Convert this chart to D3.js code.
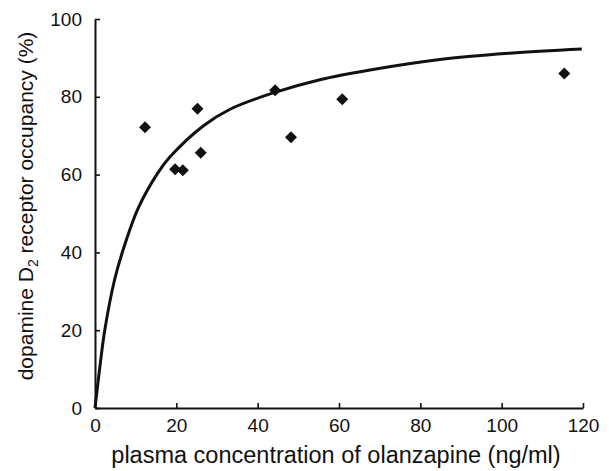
<!DOCTYPE html>
<html>
<head>
<meta charset="utf-8">
<script src="https://cdn.jsdelivr.net/npm/d3@7"></script>
<style>
  body { margin: 0; background: #fff; }
  text { font-family: "Liberation Sans", Arial, sans-serif; fill: #111; }
</style>
</head>
<body>
<div class="chart"></div>
<script>
// measured patients: plasma level (ng/ml) vs D2 occupancy (%)
var plasmaConc = [12.3, 19.7, 21.6, 25.2, 26.0, 44.3, 48.2, 60.8, 115.4];
var occupancy  = [72.2, 61.4, 61.1, 76.9, 65.6, 81.7, 69.6, 79.4, 86.0];

// fitted curve
var curveConc = [0, 1.4, 2.4, 4.8, 6.9, 10.6, 15.5, 18.4, 26.6, 33.2, 43.8, 55.3, 67.6, 84.8, 102, 119.7];
var curveOcc  = [0, 12.3, 20, 32.9, 40.6, 51.3, 60.5, 64.5, 72.5, 76.8, 81.0, 84.4, 86.9, 89.6, 91.2, 92.3];

var xTicks = [0, 20, 40, 60, 80, 100, 120];
var yTicks = [0, 20, 40, 60, 80, 100];

var svgWidth = 609;
var svgHeight = 471;

var margin = { top: 19, right: 26, bottom: 63, left: 95 };
var width = 583 - margin.left;
var height = 408 - margin.top;

var svg = d3.select(".chart")
  .append("svg")
  .attr("width", svgWidth)
  .attr("height", svgHeight);

var chartGroup = svg.append("g")
  .attr("transform", `translate(${margin.left}, ${margin.top})`);

var xScale = d3.scaleLinear().domain([0, 120]).range([0, width]);
var yScale = d3.scaleLinear().domain([0, 100]).range([height, 0]);

// axes with inward ticks
var bottomAxis = d3.axisBottom(xScale).tickValues(xTicks).tickSizeInner(-5).tickSizeOuter(0).tickPadding(11);
var leftAxis = d3.axisLeft(yScale).tickValues(yTicks).tickSizeInner(-5).tickSizeOuter(0).tickPadding(13);

var xAxis = chartGroup.append("g")
  .attr("transform", `translate(0, ${height})`)
  .call(bottomAxis);

var yAxis = chartGroup.append("g")
  .call(leftAxis);

[xAxis, yAxis].forEach(function(ax) {
  ax.select(".domain").attr("stroke", "#111").attr("stroke-width", 2);
  ax.selectAll(".tick line").attr("stroke", "#111").attr("stroke-width", 1.6);
  ax.selectAll(".tick text")
    .attr("font-size", 19)
    .attr("font-family", "Liberation Sans, Arial, sans-serif")
    .attr("fill", "#111");
});

// fitted curve
var curveData = curveConc.map(function(c, i) { return { x: c, y: curveOcc[i] }; });
var line = d3.line()
  .x(d => xScale(d.x))
  .y(d => yScale(d.y))
  .curve(d3.curveCatmullRom);

chartGroup.append("path")
  .datum(curveData)
  .attr("d", line)
  .attr("fill", "none")
  .attr("stroke", "#111")
  .attr("stroke-width", 3);

// diamonds
var points = plasmaConc.map(function(c, i) { return { x: c, y: occupancy[i] }; });
var diamond = d3.symbol().type(d3.symbolSquare).size(72);

chartGroup.selectAll(".pt")
  .data(points)
  .enter()
  .append("path")
  .attr("class", "pt")
  .attr("d", diamond)
  .attr("transform", d => `translate(${xScale(d.x)}, ${yScale(d.y)}) rotate(45)`)
  .attr("fill", "#111");

// axis titles
svg.append("text")
  .attr("x", 336)
  .attr("y", 463)
  .attr("text-anchor", "middle")
  .attr("font-size", 23.5)
  .text("plasma concentration of olanzapine (ng/ml)");

var yTitle = svg.append("text")
  .attr("transform", "translate(33, 206) rotate(-90)")
  .attr("text-anchor", "middle")
  .attr("font-size", 21);
yTitle.append("tspan").text("dopamine D");
yTitle.append("tspan").attr("font-size", 14).attr("dy", 5).text("2");
yTitle.append("tspan").attr("dy", -5).text(" receptor occupancy (%)");
</script>
</body>
</html>
